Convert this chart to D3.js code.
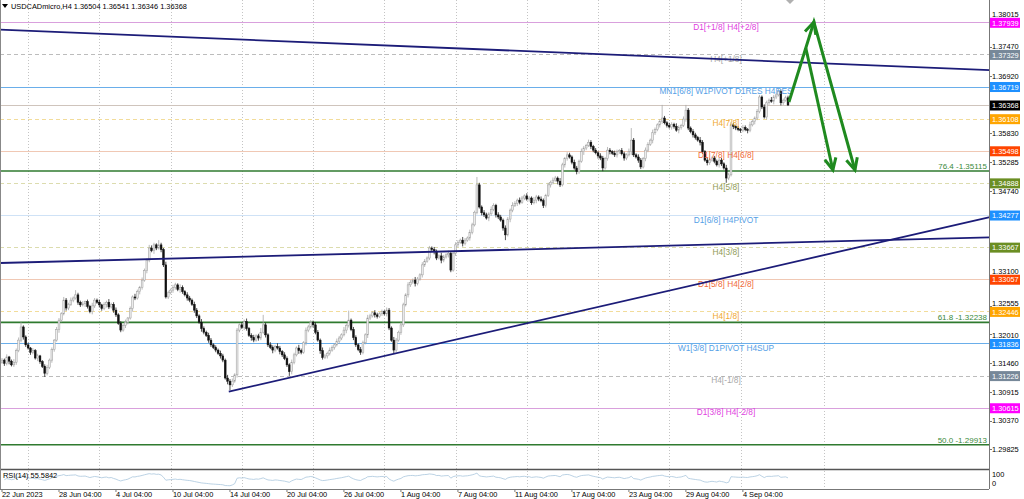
<!DOCTYPE html>
<html><head><meta charset="utf-8">
<script src="https://cdn.jsdelivr.net/npm/d3@7"></script>
<style>body{margin:0;background:#fff;}svg{display:block;font-family:"Liberation Sans",Arial,sans-serif;}</style>
</head><body><svg id="c" width="1024" height="499"></svg>
<script>
// ---------------- DATA ----------------
const symbolTitle = "USDCADmicro,H4  1.36504 1.36541 1.36346 1.36368";
const rsiTitle = "RSI(14) 55.5842";
const firstOpen = 1.3148;
const closes = [
1.3152,1.3146,1.3158,1.3150,1.3143,1.3148,1.3170,1.3190,1.3215,1.3196,
1.3181,1.3175,1.3167,1.3170,1.3156,1.3160,1.3149,1.3140,1.3127,1.3138,
1.3152,1.3172,1.3190,1.3210,1.3228,1.3240,1.3266,1.3251,1.3258,1.3266,
1.3270,1.3276,1.3262,1.3257,1.3259,1.3263,1.3254,1.3244,1.3255,1.3266,
1.3262,1.3257,1.3250,1.3258,1.3262,1.3253,1.3258,1.3247,1.3238,1.3222,
1.3209,1.3218,1.3224,1.3232,1.3250,1.3272,1.3270,1.3282,1.3290,1.3304,
1.3322,1.3342,1.3365,1.3360,1.3371,1.3365,1.3371,1.3362,1.3333,1.3272,
1.3280,1.3285,1.3290,1.3295,1.3286,1.3290,1.3282,1.3276,1.3270,1.3266,
1.3258,1.3247,1.3236,1.3224,1.3212,1.3205,1.3199,1.3190,1.3181,1.3176,
1.3171,1.3165,1.3160,1.3152,1.3118,1.3112,1.3105,1.3112,1.3124,1.3209,
1.3219,1.3214,1.3225,1.3212,1.3199,1.3195,1.3190,1.3198,1.3194,1.3205,
1.3219,1.3200,1.3181,1.3176,1.3171,1.3178,1.3175,1.3168,1.3162,1.3155,
1.3143,1.3130,1.3148,1.3162,1.3175,1.3170,1.3167,1.3185,1.3209,1.3215,
1.3224,1.3219,1.3205,1.3190,1.3170,1.3157,1.3160,1.3165,1.3171,1.3176,
1.3181,1.3188,1.3194,1.3200,1.3209,1.3218,1.3228,1.3210,1.3195,1.3181,
1.3172,1.3167,1.3185,1.3200,1.3232,1.3236,1.3242,1.3238,1.3235,1.3240,
1.3244,1.3240,1.3247,1.3213,1.3190,1.3171,1.3190,1.3205,1.3219,1.3257,
1.3276,1.3295,1.3300,1.3304,1.3298,1.3306,1.3314,1.3333,1.3340,1.3346,
1.3365,1.3362,1.3358,1.3346,1.3350,1.3342,1.3348,1.3352,1.3355,1.3323,
1.3355,1.3371,1.3376,1.3380,1.3374,1.3380,1.3384,1.3395,1.3409,1.3433,
1.3485,1.3443,1.3432,1.3428,1.3422,1.3430,1.3438,1.3446,1.3428,1.3424,
1.3418,1.3403,1.3390,1.3420,1.3437,1.3446,1.3450,1.3456,1.3452,1.3460,
1.3464,1.3458,1.3460,1.3451,1.3456,1.3462,1.3458,1.3455,1.3446,1.3465,
1.3485,1.3490,1.3494,1.3498,1.3492,1.3485,1.3523,1.3535,1.3542,1.3538,
1.3528,1.3517,1.3510,1.3530,1.3548,1.3555,1.3560,1.3566,1.3558,1.3551,
1.3546,1.3540,1.3536,1.3517,1.3535,1.3551,1.3548,1.3545,1.3542,1.3548,
1.3550,1.3544,1.3536,1.3542,1.3548,1.3570,1.3542,1.3538,1.3532,1.3519,
1.3535,1.3551,1.3562,1.3570,1.3584,1.3590,1.3599,1.3605,1.3612,1.3603,
1.3598,1.3595,1.3600,1.3596,1.3589,1.3594,1.3598,1.3610,1.3627,1.3593,
1.3586,1.3580,1.3575,1.3570,1.3566,1.3548,1.3532,1.3527,1.3532,1.3536,
1.3530,1.3523,1.3532,1.3525,1.3517,1.3498,1.3504,1.3599,1.3596,1.3593,
1.3590,1.3589,1.3594,1.3590,1.3589,1.3599,1.3605,1.3612,1.3624,1.3652,
1.3633,1.3614,1.3641,1.3646,1.3644,1.3652,1.3656,1.3662,1.3641,1.3646,
1.36504,1.36368];
// upper / lower wick lengths in pips (0.0001)
const wickUp = [
4,3,5,2,3,6,4,5,9,3, 3,4,2,5,3,4,2,3,4,5, 3,4,2,5,4,3,6,4,3,5, 3,9,4,3,5,2,4,3,6,4,
3,5,2,4,3,6,3,4,5,3, 4,3,5,2,4,3,6,4,3,5, 4,3,6,5,4,3,9,4,3,6, 4,3,5,4,3,6,4,3,5,4,
3,5,4,3,6,4,3,5,4,3, 4,3,5,4,3,6,4,5,3,4, 3,5,4,6,3,4,5,3,4,8, 19,4,3,5,4,3,6,4,3,5,
4,3,5,4,3,6,4,3,5,4, 4,3,5,4,3,6,4,3,5,4, 3,5,4,3,6,4,18,3,5,4, 3,5,4,3,6,4,3,5,4,3,
4,3,5,4,3,6,4,3,5,4, 3,5,4,3,6,4,3,5,4,3, 4,3,5,4,3,6,4,3,5,4, 3,5,4,3,6,4,3,5,4,3,
15,4,3,5,4,3,6,4,3,5, 4,3,5,4,3,6,4,3,5,4, 3,5,4,3,6,4,3,5,4,3, 4,3,5,4,3,6,4,3,5,4,
3,5,4,3,6,4,3,5,4,3, 4,3,5,4,3,6,4,3,5,4, 3,5,4,3,6,23,4,3,5,4, 3,5,4,3,6,4,3,5,25,4,
3,5,4,3,6,4,3,5,10,4, 3,5,4,3,6,4,3,5,4,3, 4,3,5,4,3,6,4,5,4,3, 4,3,5,4,3,6,4,3,5,4,
3,5,4,3,6,4,3,5,4,3, 4,4];
const wickDn = [
3,5,4,6,3,4,5,3,4,5, 4,3,5,4,3,6,4,3,7,4, 3,5,4,3,6,4,3,5,4,3, 4,3,5,4,3,6,4,3,5,4,
3,5,4,3,6,4,3,5,4,3, 4,3,5,4,3,6,4,3,5,4, 3,5,4,3,6,4,3,5,4,3, 4,3,5,4,3,6,4,3,5,4,
3,5,4,3,6,4,3,5,4,3, 4,3,5,4,3,6,10,4,3,5, 4,3,5,4,3,6,4,3,5,4, 3,5,4,3,6,4,3,5,4,3,
4,8,5,4,3,6,4,3,5,4, 3,5,4,3,6,4,3,5,4,3, 4,3,5,4,3,6,4,3,5,4, 3,5,4,3,6,4,3,5,4,3,
4,3,5,4,3,6,4,3,5,4, 3,5,4,3,6,4,3,5,4,3, 4,3,5,4,3,6,4,3,5,4, 3,5,4,3,6,4,3,5,4,3,
4,3,5,4,3,6,4,3,5,4, 3,5,10,3,6,4,3,5,4,3, 4,3,5,4,3,6,4,3,5,4, 3,5,4,3,6,4,3,5,4,3,
4,3,5,4,3,6,4,3,5,4, 3,5,4,6,3,4,5,3,4,5, 4,3,5,4,3,6,4,3,5,4, 3,5,4,3,6,4,3,5,4,3,
4,3,5,4,3,6,4,3,5,4, 3,5,4,3,6,4,3,5,4,3, 4,3,5,4,3,9,4,3,5,4, 3,5,4,3,6,4,3,5,4,3,
4,3,5,4,3,6,4,3,5,4, 3,2];

// visible right-axis tick labels (others are hidden behind the level boxes)
const priceTicks = [1.38015,1.37470,1.36920,1.35830,1.35285,1.34740,1.33100,1.32555,1.32010,1.31460,1.30915,1.30370,1.29825];
const dateLabels = ["22 Jun 2023","28 Jun 04:00","4 Jul 04:00","10 Jul 04:00","14 Jul 04:00","20 Jul 04:00","26 Jul 04:00","1 Aug 04:00","7 Aug 04:00","11 Aug 04:00","17 Aug 04:00","23 Aug 04:00","29 Aug 04:00","4 Sep 04:00"];
const dateBars = [0,24,48,72,96,120,144,168,192,216,240,264,288,312];
const gridBars = [11,41,71,101,131,161,191,221,251,281,311,346];

const levelPrices = [1.37939,1.37329,1.36719,1.36108,1.35498,1.34888,1.34277,1.33667,1.33057,1.32446,1.31836,1.31226,1.30615];
const levelNames = ["D1[+1/8] H4[+2/8]","H4[+1/8]","MN1[6/8] W1PIVOT D1RES H4RES","H4[7/8]","D1[7/8] H4[6/8]","H4[5/8]","D1[6/8] H4PIVOT","H4[3/8]","D1[5/8] H4[2/8]","H4[1/8]","W1[3/8] D1PIVOT H4SUP","H4[-1/8]","D1[3/8] H4[-2/8]"];
const levelKinds = ["mag","gray","blue","orange","red","olive","pivot","olive","red","orange","blue","gray","mag"];
const fibPct = ["76.4","61.8","50.0"];
const fibPrices = [1.35115,1.32238,1.29913];
const currentPrice = 1.36368;
const rsiScaleLabels = ["100","0"];

// trend lines: [bar, price] pairs
const trendLines = [
  [[-1,1.3780],[416,1.3703]],
  [[-1,1.33365],[416,1.33854]],
  [[95.5,1.3092],[416,1.34239]]
];
// projected green arrows: polylines in [bar, price]
const arrowPaths = [
  [[331.4,1.36425],[341.9,1.37945],[359.2,1.35133]],
  [[338.5,1.37451],[349.9,1.35133]]
];

// ---------------- STYLES ----------------
const kindStyle = {
  mag:   {line:"#d9a0dd", dash:null,  text:"#e040e0", box:"#ff00ff"},
  gray:  {line:"#bcbcbc", dash:"4,3", text:"#a8a8a8", box:"#778899"},
  blue:  {line:"#6aaeea", dash:null,  text:"#55a0e6", box:"#1e90ff"},
  pivot: {line:"#cfe2f6", dash:null,  text:"#55a0e6", box:"#1e90ff"},
  orange:{line:"#f2dc9a", dash:"4,3", text:"#f0a830", box:"#ffa500"},
  red:   {line:"#f0c8b4", dash:null,  text:"#f06a3a", box:"#ff4500"},
  olive: {line:"#dcdcae", dash:"4,3", text:"#8f9a55", box:"#6b8e23"}
};
const FS = 7.4;

// ---------------- DRAW ----------------
const svg = d3.select("#c");
const plotR = 989, mainBottom = 468, rsiTop = 469, rsiBottom = 489;
const x = d3.scaleLinear().domain([0, closes.length-1]).range([2, 788]);
const y = d3.scaleLinear().domain([1.29470, 1.38363]).range([mainBottom, 0]);

const opens = closes.map((c,i)=> i===0 ? firstOpen : closes[i-1]);
const bars = closes.map((c,i)=>{
  const o = opens[i];
  return {i, o, c, h: Math.max(o,c)+wickUp[i]*1e-4, l: Math.min(o,c)-wickDn[i]*1e-4};
});

// vertical grid
svg.append("g").selectAll("line").data(gridBars).join("line")
  .attr("x1",d=>Math.round(x(d))+0.5).attr("x2",d=>Math.round(x(d))+0.5)
  .attr("y1",0).attr("y2",rsiBottom)
  .attr("stroke","#c4c4c4").attr("stroke-dasharray","1,2").attr("stroke-width",1);

// level lines
const gl = svg.append("g");
levelPrices.forEach((p,k)=>{
  const s = kindStyle[levelKinds[k]];
  gl.append("line").attr("x1",0).attr("x2",plotR).attr("y1",Math.round(y(p))+0.5).attr("y2",Math.round(y(p))+0.5)
    .attr("stroke",s.line).attr("stroke-width",1).attr("stroke-dasharray",s.dash);
});
gl.append("line").attr("x1",0).attr("x2",plotR).attr("y1",Math.round(y(currentPrice))+0.5).attr("y2",Math.round(y(currentPrice))+0.5)
  .attr("stroke","#cfc4bc").attr("stroke-width",1);
fibPrices.forEach((p,k)=>{
  gl.append("line").attr("x1",0).attr("x2",plotR).attr("y1",y(p)).attr("y2",y(p))
    .attr("stroke","#2f7a2f").attr("stroke-width",1.6);
  gl.append("text").attr("x",plotR-2).attr("y",y(p)-2).attr("text-anchor","end")
    .attr("font-size",8).attr("fill","#3a8a3a").text(fibPct[k]+" -"+p.toFixed(5));
});

// candles
const gc = svg.append("g");
gc.selectAll("line").data(bars).join("line")
  .attr("x1",d=>x(d.i)).attr("x2",d=>x(d.i)).attr("y1",d=>y(d.h)).attr("y2",d=>y(d.l))
  .attr("stroke",d=>d.c>=d.o?"#a8a8a8":"#222").attr("stroke-width",0.8);
gc.selectAll("rect").data(bars).join("rect")
  .attr("x",d=>x(d.i)-0.9).attr("width",1.8)
  .attr("y",d=>y(Math.max(d.o,d.c))).attr("height",d=>Math.max(0.8, Math.abs(y(d.o)-y(d.c))))
  .attr("fill",d=>d.c>=d.o?"#ececec":"#111").attr("stroke",d=>d.c>=d.o?"#9c9c9c":"#111").attr("stroke-width",0.5);

// level labels
levelPrices.forEach((p,k)=>{
  const s = kindStyle[levelKinds[k]];
  svg.append("text").attr("x",726).attr("y",y(p)+7.5).attr("text-anchor","middle")
    .attr("font-size",8.3).attr("fill",s.text).text(levelNames[k]);
});

// trend lines
const lineGen = d3.line().x(d=>x(d[0])).y(d=>y(d[1]));
svg.append("g").selectAll("path").data(trendLines).join("path")
  .attr("d",lineGen).attr("fill","none").attr("stroke","#1c1c78").attr("stroke-width",1.8);

// green arrows
const ga = svg.append("g");
arrowPaths.forEach(pts=>{
  ga.append("path").attr("d",lineGen(pts)).attr("fill","none").attr("stroke","#1f8a1f")
    .attr("stroke-width",3).attr("stroke-linejoin","miter");
});
function head(p0,p1){
  const ax=x(p0[0]), ay=y(p0[1]), bx=x(p1[0]), by=y(p1[1]);
  const ang=Math.atan2(by-ay,bx-ax), L=13, a=0.45;
  const pts=[[bx-L*Math.cos(ang-a),by-L*Math.sin(ang-a)],[bx,by],[bx-L*Math.cos(ang+a),by-L*Math.sin(ang+a)]];
  ga.append("path").attr("d",d3.line()(pts)).attr("fill","none").attr("stroke","#1f8a1f").attr("stroke-width",3);
}
head(arrowPaths[0][0],arrowPaths[0][1]);
head(arrowPaths[0][1],arrowPaths[0][2]);
head(arrowPaths[1][0],arrowPaths[1][1]);

// small marker at top
svg.append("path").attr("d","M786,0 L794,0 L790,4 Z").attr("fill","#b0b0b0");

// RSI panel (computed from the closes)
function rsi(vals,n){
  const out=[]; let ag=0, al=0;
  for(let i=1;i<vals.length;i++){
    const ch=vals[i]-vals[i-1], g=Math.max(ch,0), l=Math.max(-ch,0);
    if(i<=n){ ag+=g/n; al+=l/n; } else { ag=(ag*(n-1)+g)/n; al=(al*(n-1)+l)/n; }
    const rs = al===0?100:100-100/(1+ag/al);
    out.push([i, i<n? 50+(rs-50)*i/n : rs]);
  }
  return out;
}
const rsiData = rsi(closes,14);
const yr = d3.scaleLinear().domain([0,100]).range([rsiBottom-1, rsiTop+1]);
svg.append("path").attr("d",d3.line().x(d=>x(d[0])).y(d=>yr(d[1]))(rsiData))
  .attr("fill","none").attr("stroke","#a9c6dd").attr("stroke-width",0.8);
svg.append("text").attr("x",3).attr("y",478).attr("font-size",FS).attr("fill","#000").text(rsiTitle);

// frames
svg.append("line").attr("x1",0).attr("x2",plotR).attr("y1",469.5).attr("y2",469.5).attr("stroke","#555").attr("stroke-width",1.5);
svg.append("line").attr("x1",0).attr("x2",plotR).attr("y1",489.5).attr("y2",489.5).attr("stroke","#777").attr("stroke-width",1);
svg.append("line").attr("x1",plotR+0.5).attr("x2",plotR+0.5).attr("y1",0).attr("y2",rsiBottom).attr("stroke","#777").attr("stroke-width",1);
svg.append("line").attr("x1",0.5).attr("x2",0.5).attr("y1",0).attr("y2",rsiBottom).attr("stroke","#888").attr("stroke-width",1);

// right price axis
const ga2 = svg.append("g");
const boxYs = levelPrices.concat([currentPrice]).map(p=>y(p));
priceTicks.forEach(p=>{
  const ty = y(p);
  ga2.append("line").attr("x1",plotR).attr("x2",plotR+3).attr("y1",Math.round(ty)+0.5).attr("y2",Math.round(ty)+0.5).attr("stroke","#777");
  // nudge a tick label just clear of a nearby level box
  let base = ty + 2.6;
  boxYs.forEach(by=>{
    if (Math.abs(by-ty) < 10) base = ty < by ? by - 5 : by + 11.5;
  });
  ga2.append("text").attr("x",992).attr("y",base).attr("font-size",FS).attr("fill","#000").text(p.toFixed(5));
});
function priceBox(p,color){
  const cy=y(p);
  ga2.append("rect").attr("x",990).attr("y",cy-4.5).attr("width",30).attr("height",10).attr("fill",color);
  ga2.append("text").attr("x",992).attr("y",cy+3.2).attr("font-size",FS).attr("fill","#fff").text(p.toFixed(5));
}
levelPrices.forEach((p,k)=>priceBox(p,kindStyle[levelKinds[k]].box));
priceBox(currentPrice,"#000");
svg.append("text").attr("x",992).attr("y",476.5).attr("font-size",FS).text(rsiScaleLabels[0]);
svg.append("text").attr("x",992).attr("y",486).attr("font-size",FS).text(rsiScaleLabels[1]);

// bottom date axis
dateBars.forEach((b,k)=>{
  svg.append("line").attr("x1",x(b)).attr("x2",x(b)).attr("y1",489).attr("y2",492).attr("stroke","#777");
  svg.append("text").attr("x",x(b)).attr("y",497).attr("font-size",FS).attr("fill","#000").text(dateLabels[k]);
});

// title
svg.append("path").attr("d","M2,4 L8,4 L5,8 Z").attr("fill","#000");
svg.append("text").attr("x",11).attr("y",9).attr("font-size",FS).attr("fill","#000").text(symbolTitle);
</script></body></html>
